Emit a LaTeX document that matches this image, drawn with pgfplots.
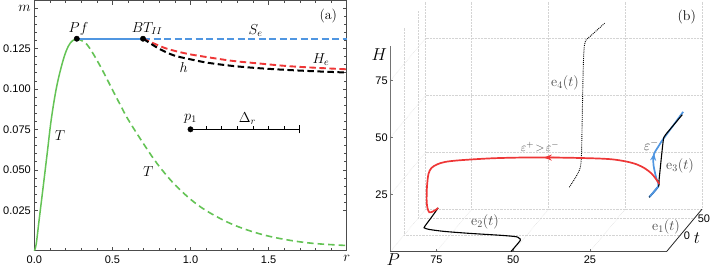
\documentclass[border=0pt]{standalone}
\usepackage{fontspec}
\setsansfont{Liberation Sans}
\usepackage{pgfplots}
\pgfplotsset{compat=1.18}
\usetikzlibrary{arrows.meta}
\definecolor{mgreen}{RGB}{100,195,85}
\definecolor{mblue}{RGB}{80,150,225}
\definecolor{mred}{RGB}{238,55,55}
\definecolor{gridc}{RGB}{212,212,212}
\definecolor{labc}{RGB}{70,70,70}
\begin{document}
\begin{tikzpicture}
\useasboundingbox (0pt,0pt) rectangle (713pt,268pt);
% ---------------- panel (a)
\begin{axis}[
  at={(34.3pt,17.3pt)}, anchor=south west, scale only axis,
  width=312.4pt, height=250pt,
  xmin=0, xmax=2, ymin=0, ymax=0.1545,
  xtick={0,0.5,1,1.5,2}, xticklabels={0.0,0.5,1.0,1.5,{\fontsize{15}{15}\selectfont$r$}},
  ytick={0.025,0.05,0.075,0.1,0.125,0.15},
  yticklabels={0.025,0.050,0.075,0.100,0.125,{\fontsize{15}{15}\selectfont$m$}},
  minor x tick num=4, minor y tick num=4,
  tick align=inside, major tick length=4pt, minor tick length=2.3pt,
  axis line style={black!70, line width=0.6pt}, tick style={black!70, line width=0.5pt},
  ticklabel style={font=\sffamily\fontsize{11}{12}\selectfont},
  xticklabel style={yshift=-1.5pt},
  /pgf/number format/assume math mode=true,
  clip=false,
]
\addplot[mgreen, line width=1.5pt, smooth, tension=0.6] coordinates {
 (0,0) (0.012,0.004) (0.032,0.0199) (0.058,0.0404) (0.0835,0.0609) (0.109,0.0814)
 (0.144,0.1018) (0.186,0.1182) (0.218,0.1264) (0.245,0.1298) (0.272,0.131)};
\addplot[mgreen, line width=1.6pt, dash pattern=on 6.5pt off 4pt, smooth, tension=0.6] coordinates {
 (0.272,0.131) (0.31,0.1295) (0.35,0.1258) (0.422,0.1141) (0.5,0.0995) (0.55,0.0902)
 (0.6,0.0812) (0.679,0.0691) (0.764,0.0568) (0.829,0.0486) (0.9,0.0408) (1.0,0.0318)
 (1.1,0.0248) (1.24,0.0175) (1.37,0.0126) (1.5,0.0090) (1.65,0.0062) (1.8,0.0044) (2.0,0.0032)};
\addplot[mblue, line width=1.6pt] coordinates {(0.272,0.131) (0.696,0.131)};
\addplot[mblue, line width=1.6pt, dash pattern=on 7pt off 3.5pt] coordinates {(0.696,0.131) (2,0.131)};
\addplot[mred, line width=1.9pt, dash pattern=on 6.5pt off 3.5pt, smooth] coordinates {
 (0.696,0.1311) (0.765,0.1281) (0.850,0.1248) (0.979,0.1217) (1.128,0.1193) (1.278,0.1172)
 (1.450,0.1156) (1.621,0.1141) (1.792,0.1131) (2.0,0.1121)};
\addplot[black, line width=2pt, dash pattern=on 6.5pt off 3.5pt, smooth] coordinates {
 (0.696,0.1311) (0.743,0.1281) (0.807,0.1244) (0.893,0.1207) (0.979,0.1187) (1.107,0.1162)
 (1.278,0.1141) (1.450,0.1127) (1.621,0.1117) (1.792,0.1109) (2.0,0.1101)};
% scale bar
\addplot[black, line width=1pt] coordinates {(1,0.075) (1.7,0.075)};
\addplot[black, line width=1pt] coordinates {(1.7,0.0725) (1.7,0.0775)};
\addplot[black, line width=0.6pt] coordinates {(1.1,0.075) (1.1,0.0769)};
\addplot[black, line width=0.6pt] coordinates {(1.2,0.075) (1.2,0.0769)};
\addplot[black, line width=0.6pt] coordinates {(1.3,0.075) (1.3,0.0769)};
\addplot[black, line width=0.6pt] coordinates {(1.4,0.075) (1.4,0.0769)};
\addplot[black, line width=0.6pt] coordinates {(1.5,0.075) (1.5,0.0769)};
\addplot[black, line width=0.6pt] coordinates {(1.6,0.075) (1.6,0.0769)};
\addplot[only marks, mark=*, mark size=2.7pt, black] coordinates {(0.272,0.131) (0.696,0.131) (1,0.075)};
\begin{scope}[every node/.style={font=\fontsize{14}{14}\selectfont, inner sep=0pt}]
\node at (axis cs:0.283,0.1371) {$Pf$};
\node at (axis cs:0.722,0.1371) {$BT_{II}$};
\node at (axis cs:1.417,0.1358) {$S_e$};
\node at (axis cs:1.835,0.1182) {$H_e$};
\node at (axis cs:0.957,0.1131) {$h$};
\node at (axis cs:1.0,0.0814) {$p_1$};
\node at (axis cs:1.364,0.0818) {$\Delta_r$};
\node at (axis cs:0.165,0.0711) {$T$};
\node at (axis cs:0.730,0.0486) {$T$};
\node at (axis cs:1.882,0.1449) {(a)};
\end{scope}
\end{axis}
% ---------------- panel (b)
\begin{axis}[
  at={(680.1pt,32.6pt)}, anchor=origin,
  x={(-3.07pt,0pt)}, y={(0.2795pt,0.335pt)}, z={(0pt,2.28pt)},
  xmin=0, xmax=90, ymin=-48, ymax=78, zmin=0, zmax=91,
  hide axis, clip=false,
]
% grid on back faces
\pgfplotsinvokeforeach{90,75,50,25,0}{\addplot3[gridc, densely dotted, line width=0.45pt] coordinates {(#1,78,0) (#1,78,91)};}
\pgfplotsinvokeforeach{25,50,75}{\addplot3[gridc, densely dotted, line width=0.45pt] coordinates {(90,78,#1) (0,78,#1)};}
\pgfplotsinvokeforeach{0,50}{\addplot3[gridc, densely dotted, line width=0.45pt] coordinates {(90,#1,0) (90,#1,91)};}
\pgfplotsinvokeforeach{25,50,75}{\addplot3[gridc, densely dotted, line width=0.45pt] coordinates {(90,-48,#1) (90,78,#1)};}
\pgfplotsinvokeforeach{75,50,25}{\addplot3[gridc, densely dotted, line width=0.45pt] coordinates {(#1,-48,0) (#1,78,0)};}
\pgfplotsinvokeforeach{0,50}{\addplot3[gridc, densely dotted, line width=0.45pt] coordinates {(0,#1,0) (90,#1,0)};}
\addplot3[gridc, densely dotted, line width=0.45pt] coordinates {(90,78,0) (0,78,0)};
\addplot3[gridc, densely dotted, line width=0.45pt] coordinates {(90,-48,0) (90,78,0)};
% axes
\addplot3[black!55, line width=0.8pt] coordinates {(90,-48,0) (90,-48,90)};
\addplot3[black!70, line width=0.8pt] coordinates {(90,-48,0) (0,-48,0)};
\addplot3[black!85, line width=0.8pt] coordinates {(0,-48,0) (0,78,0)};
\pgfplotsinvokeforeach{25,50,75}{\addplot3[black!55, line width=0.5pt] coordinates {(90,-48,#1) (89,-48,#1)};}
\pgfplotsinvokeforeach{25,50,75}{\addplot3[black!55, line width=0.5pt] coordinates {(#1,-48,0) (#1,-48,1.2)};}
\begin{scope}[every node/.style={font=\sffamily\fontsize{11}{12}\selectfont, inner sep=1pt}]
\node[anchor=east, xshift=-1.5pt] at (axis cs:90,-48,75) {75};
\node[anchor=east, xshift=-1.5pt] at (axis cs:90,-48,50) {50};
\node[anchor=east, xshift=-1.5pt] at (axis cs:90,-48,25) {25};
\node[anchor=north, yshift=-3pt] at (axis cs:75,-48,0) {75};
\node[anchor=north, yshift=-3pt] at (axis cs:50,-48,0) {50};
\node[anchor=north, yshift=-3pt] at (axis cs:25,-48,0) {25};
\node[anchor=west, xshift=2.5pt] at (axis cs:0,0,0) {0};
\node[anchor=west, xshift=2.5pt] at (axis cs:0,50,0) {50};
\end{scope}
% e4 (dotted)
\addplot3[black, densely dotted, line width=0.9pt, smooth] coordinates {
 (31.7,-48,28.2) (31.7,-30,29.0) (31.7,-15,30.0) (31.7,-8,31.5) (31.7,-5,35) (31.7,-3,45)
 (31.7,-1,58) (31.7,1,70) (31.7,3,78) (31.7,6,82.5) (31.7,12,84) (31.7,30,83.3) (31.7,78,81.6)};
% e2
\addplot3[black, line width=1.1pt, smooth, tension=0.5] coordinates {
 (50.7,-48,0) (50.7,-15,0) (51.8,-8,0) (53,-4,0) (58,0,0) (69,6,0) (78,12,0) (83.5,18,0)
 (85.2,22,0) (85.6,26,0) (85.7,50,0.3) (85.9,78,0.6)};
% blue trajectory
\addplot3[mblue, line width=1.7pt, smooth, tension=0.5] coordinates {
 (5.7,-48,23.8) (5.7,-15,23.8) (6.5,-13,26.7) (7.23,-11,29.4) (7.85,-9,32.2) (8.08,-7,34.5)
 (8.05,-5,36.4) (7.65,-2,37.7) (7.3,2,38.6) (6.8,8,40.0) (6.3,15,41.1) (6.2,47,41.9) (6.2,79,42.6)};
% e3
\addplot3[black, line width=1.1pt, smooth, tension=0.5] coordinates {
 (5.7,-48,23.8) (5.7,-14,23.8) (5.8,-12,25.5) (5.9,-6,30.5) (6.0,0,35.5) (6.1,6,40)
 (6.2,10,41.5) (6.2,16,41.8) (6.2,46,41.8) (6.2,76,41.8)};
\addplot3[mblue, line width=1.7pt] coordinates {(5.7,-46,23.8) (5.7,-16,23.8)};
\addplot3[mblue, line width=1.2pt, -{Stealth[length=7pt,width=6pt]}] coordinates {(8.08,-7,34.5) (8.02,-5,36.6)};
% red trajectory
\addplot3[mred, line width=1.7pt, smooth, tension=0.5] coordinates {
 (5.60,-13,24.47) (6.68,-13,26.67) (8.14,-13,29.08) (10.26,-13,31.27) (12.87,-13,33.03)
 (16.12,-13,34.25) (20.59,-13,35.22) (25.99,-13,35.66) (36.87,-13,36.01) (47.72,-13,36.10)
 (59.67,-13,35.75) (70.52,-13,34.87) (75.41,-13,34.12) (78.01,-13,33.03) (79.80,-13,31.49)
 (80.78,-13,28.86) (81.27,-13,23.16) (81.37,-13,17.15) (81.11,-13,13.95) (80.52,-13,12.06)
 (81.6,10,8.9) (83.3,40,5.26) (85.9,78,0.6)};
\addplot3[mred, line width=1.2pt, -{Stealth[length=8pt,width=6pt]}] coordinates {(37,-13,36.01) (43.2,-13,36.06)};
\end{axis}
% labels of panel (b)
\begin{scope}[every node/.style={font=\fontsize{14}{14}\selectfont, inner sep=0pt, text=labc}]
\node at (565pt,185.3pt) {$\mathrm{e}_4(t)$};
\node[font=\fontsize{13}{13}\selectfont] at (540pt,121.3pt) {$\varepsilon^+\!>\!\varepsilon^-$};
\node at (651.2pt,123pt) {$\varepsilon^-$};
\node at (680pt,102.3pt) {$\mathrm{e}_3(t)$};
\node at (485pt,46.3pt) {$\mathrm{e}_2(t)$};
\node at (666pt,41.3pt) {$\mathrm{e}_1(t)$};
\node[text=black] at (686.7pt,251.3pt) {(b)};
\node[text=black, font=\fontsize{17}{17}\selectfont] at (379.3pt,213pt) {$H$};
\node[text=black, font=\fontsize{16}{16}\selectfont] at (393.3pt,8.5pt) {$P$};
\node[text=black, font=\fontsize{17}{17}\selectfont] at (697pt,29.5pt) {$t$};
\end{scope}
\end{tikzpicture}
\end{document}
